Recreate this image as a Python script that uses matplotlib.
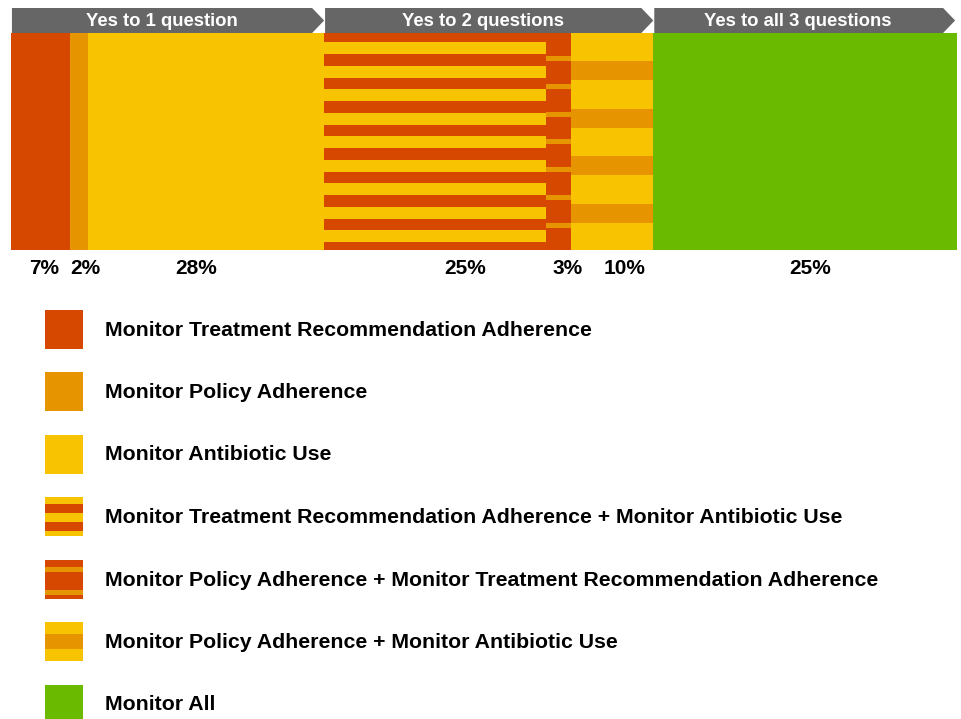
import numpy as np
import matplotlib.pyplot as plt
from matplotlib.patches import Polygon, Rectangle

plt.rcParams['font.family'] = ['Liberation Sans', 'DejaVu Sans']
plt.rcParams['font.weight'] = 'bold'

RED = '#D64800'
ORANGE = '#E69500'
YELLOW = '#F8C300'
GREEN = '#6ABB00'
GRAY = '#666666'

# --- data (segment widths, labels as printed) ---
segment_widths = [6.2, 1.9, 25.0, 23.5, 2.6, 8.7, 32.1]
segment_labels = ['7%', '2%', '28%', '25%', '3%', '10%', '25%']
segment_kinds = ['treat', 'policy', 'antib', 'treat+antib', 'policy+treat', 'policy+antib', 'all']
group_names = ['Yes to 1 question', 'Yes to 2 questions', 'Yes to all 3 questions']
group_sizes = [3, 3, 1]
legend_labels = [
    'Monitor Treatment Recommendation Adherence',
    'Monitor Policy Adherence',
    'Monitor Antibiotic Use',
    'Monitor Treatment Recommendation Adherence + Monitor Antibiotic Use',
    'Monitor Policy Adherence + Monitor Treatment Recommendation Adherence',
    'Monitor Policy Adherence + Monitor Antibiotic Use',
    'Monitor All',
]

# label nudges in px (the original labels are not exactly centred)
label_nudge = [4, 7, -10, 30, 9, 12, 5]

# style of each kind: base colour, band colour, (first, step, height, count) in bar px
BAR_H = 217
styles = {
    'treat': (RED, None, None),
    'policy': (ORANGE, None, None),
    'antib': (YELLOW, None, None),
    'treat+antib': (RED, YELLOW, (9, 23.5, 12, 9)),
    'policy+treat': (RED, ORANGE, (23, 27.8, 5, 7)),
    'policy+antib': (YELLOW, ORANGE, (28, 47.5, 19, 4)),
    'all': (GREEN, None, None),
}
# legend swatch bands, as fractions of swatch height (from top)
legend_bands = {
    'treat+antib': (YELLOW, RED, [(0.175, 0.225), (0.65, 0.225)]),
    'policy+treat': (RED, ORANGE, [(0.2, 0.13), (0.77, 0.13)]),
    'policy+antib': (YELLOW, ORANGE, [(0.31, 0.38)]),
}

fig = plt.figure(figsize=(9.61, 7.19), dpi=100)
ax = fig.add_axes([11 / 961, (719 - 250) / 719, 946 / 961, 242 / 719])
ax.set_xlim(0, sum(segment_widths))
ax.set_ylim(BAR_H, -25)
ax.axis('off')
px = sum(segment_widths) / 946  # data units per pixel

lefts = np.concatenate([[0], np.cumsum(segment_widths)[:-1]])
for left, w, kind, lab, nd in zip(lefts, segment_widths, segment_kinds, segment_labels, label_nudge):
    base, band, geo = styles[kind]
    ax.bar(left, BAR_H, width=w, bottom=0, align='edge', color=base, linewidth=0)
    if band is not None:
        first, step, h, n = geo
        bottoms = first + step * np.arange(n)
        ax.bar([left] * n, [h] * n, width=w, bottom=bottoms, align='edge',
               color=band, linewidth=0)
    ax.text(left + w / 2 + nd * px, BAR_H + 19, lab, ha='center', va='center',
            fontsize=15, fontweight='bold', color='black')

# header chevrons
tip = 12 * px
edges = np.concatenate([[0], np.cumsum(segment_widths)])
idx = 0
for name, n in zip(group_names, group_sizes):
    x0, x1 = edges[idx], edges[idx + n]
    idx += n
    if x1 >= edges[-1]:
        x1 = x1 - 0.2
    pts = [(x0 + 0.1, -25), (x1 - tip, -25), (x1, -12.5), (x1 - tip, 0), (x0 + 0.1, 0)]
    ax.add_patch(Polygon(pts, closed=True, facecolor=GRAY, edgecolor='none'))
    ax.text((x0 + x1 - tip) / 2, -12, name, ha='center', va='center',
            color='white', fontsize=13.3, fontweight='bold')

# legend
lg = fig.add_axes([0, 0, 1, 1])
lg.set_xlim(0, 961)
lg.set_ylim(719, 0)
lg.axis('off')
for i, (kind, lab) in enumerate(zip(segment_kinds, legend_labels)):
    yc = 329 + i * 62.5
    top = yc - 19.5
    sh = 39
    if kind in legend_bands:
        base, band, bands = legend_bands[kind]
    else:
        base, band, bands = styles[kind][0], None, []
    lg.add_patch(Rectangle((45, top), 38, sh, facecolor=base, edgecolor='none'))
    for off, hh in bands:
        lg.add_patch(Rectangle((45, top + off * sh), 38, hh * sh, facecolor=band, edgecolor='none'))
    lg.text(105, yc + 1, lab, ha='left', va='center', fontsize=15.3,
            fontweight='bold', color='black')

fig.savefig('out.png', dpi=100)
